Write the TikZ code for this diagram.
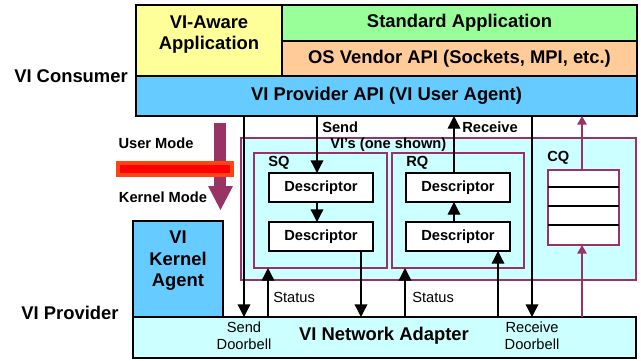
\documentclass[tikz,border=0pt]{standalone}
\usepackage{fontspec}
\setmainfont{Liberation Sans}
\usetikzlibrary{arrows.meta}

\definecolor{appyellow}{HTML}{FFFF99}
\definecolor{appgreen}{HTML}{99FF99}
\definecolor{apporange}{HTML}{FFCC99}
\definecolor{apiblue}{HTML}{66CCFF}
\definecolor{lightcyan}{HTML}{CCFFFF}
\definecolor{viplum}{HTML}{993366}
\definecolor{barred}{HTML}{FF0000}
\definecolor{baredge}{HTML}{FF4411}

% block given by its corners (x1,y1)-(x2,y2) in pixel units
\newcommand\blockat[7]{%
  \node[#2, minimum width={(#5-#3)*0.75pt}, minimum height={(#6-#4)*0.75pt}]
    (#1) at ({(#3+#5)/2},{(#4+#6)/2}) {#7};}

\tikzset{
  layer/.style={draw=black, line width=0.9pt, inner sep=0pt, outer sep=0pt,
    font=\fontsize{13.8}{16}\selectfont\bfseries},
  viframe/.style={draw=viplum, line width=1.2pt, fill=lightcyan, inner sep=0pt, outer sep=0pt},
  descbox/.style={draw=black, line width=0.9pt, fill=white, inner sep=0pt, outer sep=0pt,
    font=\fontsize{11}{13}\selectfont\bfseries},
  bigtext/.style={inner sep=0pt, align=center, font=\fontsize{13.8}{16.2}\selectfont\bfseries},
  smalltext/.style={inner sep=0pt, font=\fontsize{11}{13}\selectfont\bfseries},
  plaintext/.style={inner sep=0pt, align=center, font=\fontsize{11}{12.8}\selectfont},
  flow/.style={draw=black, line width=1pt, -{Triangle[width=9.5pt,length=9.5pt]}},
  cqflow/.style={draw=viplum, line width=1.4pt, -{Triangle[width=7pt,length=6.5pt]}},
}

\begin{document}
\begin{tikzpicture}[x=0.75pt, y=-0.75pt]
\useasboundingbox (0,0) rectangle (641,360);

% consumer layers
\blockat{aware}{layer, fill=appyellow}{136}{5}{282}{76}{}
\blockat{std}{layer, fill=appgreen}{282}{5}{637}{41}{Standard Application}
\blockat{osapi}{layer, fill=apporange}{282}{41}{637}{76}{OS Vendor API (Sockets, MPI, etc.)}
\blockat{api}{layer, fill=apiblue}{136}{76}{637}{116}{VI Provider API (VI User Agent)}
\node[bigtext, font=\fontsize{13.8}{15.8}\selectfont\bfseries] (awaretext) at (209,35) {VI-Aware\\Application};

% provider blocks
\blockat{kernel}{layer, fill=apiblue}{133}{221}{223}{317}{}
\node[bigtext] (kerneltext) at (178,261) {VI\\Kernel\\Agent};
\blockat{adapter}{layer, fill=lightcyan}{133}{317}{636}{358}{}
\node[bigtext] (adaptertext) at (384,336) {VI Network Adapter};

% side labels
\node[bigtext] (consumer) at (71,76) {VI Consumer};
\node[bigtext] (provider) at (70,313) {VI Provider};

% user / kernel boundary
\fill[viplum] (214,123) rectangle (226,187);
\fill[viplum] (208,186) -- (233,186) -- (220.5,210) -- cycle;
\draw[baredge, fill=barred, line width=3pt] (118,163) rectangle (232,175);
\node[smalltext] (usermode) at (156,143) {User Mode};
\node[smalltext] (kernelmode) at (163,197) {Kernel Mode};

% the VI with its queues
\blockat{vis}{viframe}{241}{138}{636}{280}{}
\blockat{sq}{viframe}{254}{153}{387}{268}{}
\blockat{rq}{viframe}{392}{153}{524}{268}{}
\node[smalltext, anchor=west] (vistext) at (330,145) {VI’s (one shown)};
\node[smalltext, anchor=west] (sqtext) at (268,163) {SQ};
\node[smalltext, anchor=west] (rqtext) at (406,163) {RQ};
\node[smalltext, anchor=west] (cqtext) at (547,158) {CQ};

\blockat{d1}{descbox}{269}{173}{373}{202}{Descriptor}
\blockat{d2}{descbox}{269}{222}{373}{251}{Descriptor}
\blockat{d3}{descbox}{406}{173}{510}{202}{Descriptor}
\blockat{d4}{descbox}{406}{222}{510}{251}{Descriptor}

% completion queue
\blockat{cq}{draw=viplum, line width=1.2pt, fill=white, inner sep=0pt, outer sep=0pt}{548}{170}{619}{245}{}
\coordinate (r1) at (0,187);
\coordinate (r2) at (0,206);
\coordinate (r3) at (0,225);
\foreach \r in {r1,r2,r3}
  \draw[black, line width=0.9pt] (cq.west |- \r) -- (cq.east |- \r);

% connector columns
\coordinate (xsenddb) at (244,0);
\coordinate (xsend) at (317,0);
\coordinate (xsqout) at (361,0);
\coordinate (xsqst) at (268,0);
\coordinate (xrqst) at (405,0);
\coordinate (xrecv) at (454,0);
\coordinate (xrqin) at (498,0);
\coordinate (xrecvdb) at (532,0);
\coordinate (xcq) at (582,0);

\draw[flow] (api.south -| xsenddb) -- (adapter.north -| xsenddb);
\draw[flow] (api.south -| xrecvdb) -- (adapter.north -| xrecvdb);
\draw[flow] (api.south -| xsend) -- (d1.north -| xsend);
\draw[flow] (d1.south -| xsend) -- (d2.north -| xsend);
\draw[flow] (d2.south -| xsqout) -- (adapter.north -| xsqout);
\draw[flow] (adapter.north -| xsqst) -- (sq.south -| xsqst);
\draw[flow] (adapter.north -| xrqst) -- (rq.south -| xrqst);
\draw[flow] (adapter.north -| xrqin) -- (d4.south -| xrqin);
\draw[flow] (d4.north -| xrecv) -- (d3.south -| xrecv);
\draw[flow] (d3.north -| xrecv) -- (api.south -| xrecv);
\draw[cqflow] (adapter.north -| xcq) -- (cq.south -| xcq);
\draw[cqflow] (cq.north -| xcq) -- (api.south -| xcq);

% connector labels
\node[smalltext, anchor=west] (sendlbl) at (322,127) {Send};
\node[smalltext, anchor=west] (recvlbl) at (462,127) {Receive};
\node[plaintext, anchor=west] (status1) at (273,297) {Status};
\node[plaintext, anchor=west] (status2) at (412,297) {Status};
\node[plaintext] (senddb) at (244,336) {Send\\Doorbell};
\node[plaintext] (recvdb) at (532,336) {Receive\\Doorbell};
\end{tikzpicture}
\end{document}
